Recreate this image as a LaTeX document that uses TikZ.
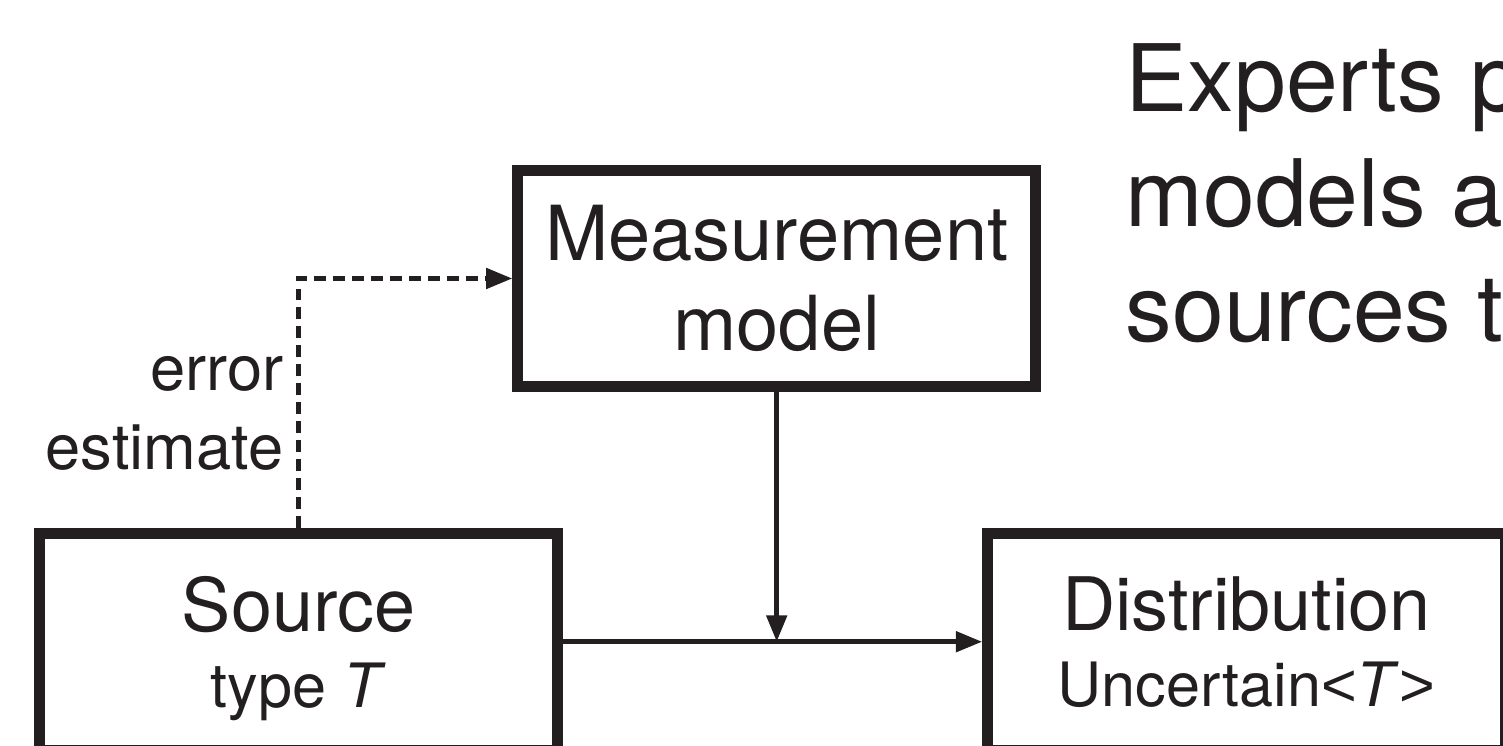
\documentclass[tikz,border=0pt]{standalone}
\usepackage{fontspec}
\setmainfont{TeX Gyre Heros}
\newfontfamily\symfont{Liberation Sans}
\usepackage{tikz}
\usetikzlibrary{arrows.meta, positioning, calc}
\definecolor{inkblack}{RGB}{35, 31, 32}

\begin{document}
\begin{tikzpicture}[
    box/.style={rectangle, draw=inkblack, line width=3pt, minimum width=5.18cm, minimum height=2.165cm, inner sep=0pt, align=center, text=inkblack, font=\fontsize{21}{21.6}\selectfont},
    arrow/.style={-{Triangle[length=7.5pt, width=5.7pt]}, line width=1.4pt, draw=inkblack},
    note/.style={text=inkblack, inner sep=0pt, align=right, font=\fontsize{18}{22.5}\selectfont}
]
\useasboundingbox (0,0) rectangle (15.03,-7.46);

% Boxes
\node[box, font=\fontsize{21.6}{25.6}\selectfont] (meas) at (7.767,-2.785) {Measurement\\model};
\node[box, text depth=0pt] (src) at (2.985,-6.4175) {Source\\{\fontsize{17.4}{21}\selectfont type \textit{T}}};
\node[box, text depth=0pt] (dist) at (12.465,-6.4175) {Distribution\\{\fontsize{17.4}{21}\selectfont Uncertain{\symfont<}\textit{T}{\symfont>}}};

% Arrows
\draw[arrow] (src.east) -- (dist.west);
\draw[arrow] (meas.south) -- (meas.south |- src.east);
\draw[arrow, dash pattern=on 3.4pt off 2pt] (src.north) |- (meas.west);

% Labels
\node[note, anchor=north east] (errlbl) at (2.84,-3.56) {error\\estimate};

% Heading
\node[anchor=north west, inner sep=0pt, align=left, text=inkblack, font=\fontsize{26.5}{32.7}\selectfont] (heading) at (11.25,-0.43) {Experts p\\models a\\sources t};
\end{tikzpicture}
\end{document}
